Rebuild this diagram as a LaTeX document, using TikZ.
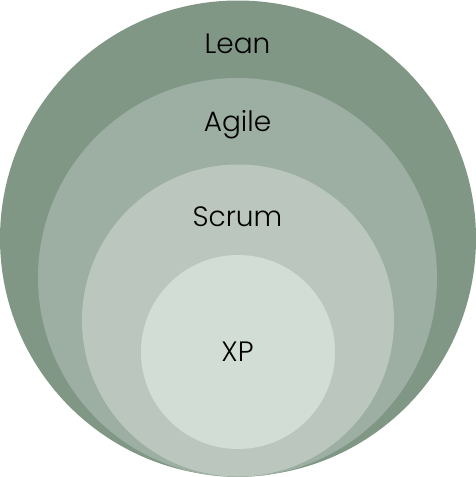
\documentclass[tikz,border=0pt]{standalone}
\usepackage{fontspec}
\setmainfont{Poppins}[UprightFont=* Light]
\definecolor{leanc}{HTML}{819786}
\definecolor{agilec}{HTML}{9DAEA2}
\definecolor{scrumc}{HTML}{BBC7BE}
\definecolor{xpc}{HTML}{D2DDD6}
\tikzset{
  ring/.style={circle, inner sep=0pt, draw=none},
  lbl/.style={font=\fontsize{28}{32}\selectfont, text=black, inner sep=0pt, anchor=base}
}
\begin{document}
\begin{tikzpicture}[x=1pt,y=-1pt]
\useasboundingbox (0,0) rectangle (476,477);
\node[ring, fill=leanc, minimum size=476pt] (lean) at (238,238.5) {};
\node[ring, fill=agilec, minimum size=399pt] (agile) at (237.5,277.5) {};
\node[ring, fill=scrumc, minimum size=312pt] (scrum) at (238,320.5) {};
\node[ring, fill=xpc, minimum size=194pt] (xp) at (238,352) {};
\node[lbl] (leanl) at (237.5,53.3) {Lean};
\node[lbl] (agilel) at (237.5,131) {Agile};
\node[lbl] (scruml) at (237.5,226) {Scrum};
\node[lbl] (xpl) at (237.5,361.7) {XP};
\end{tikzpicture}
\end{document}
